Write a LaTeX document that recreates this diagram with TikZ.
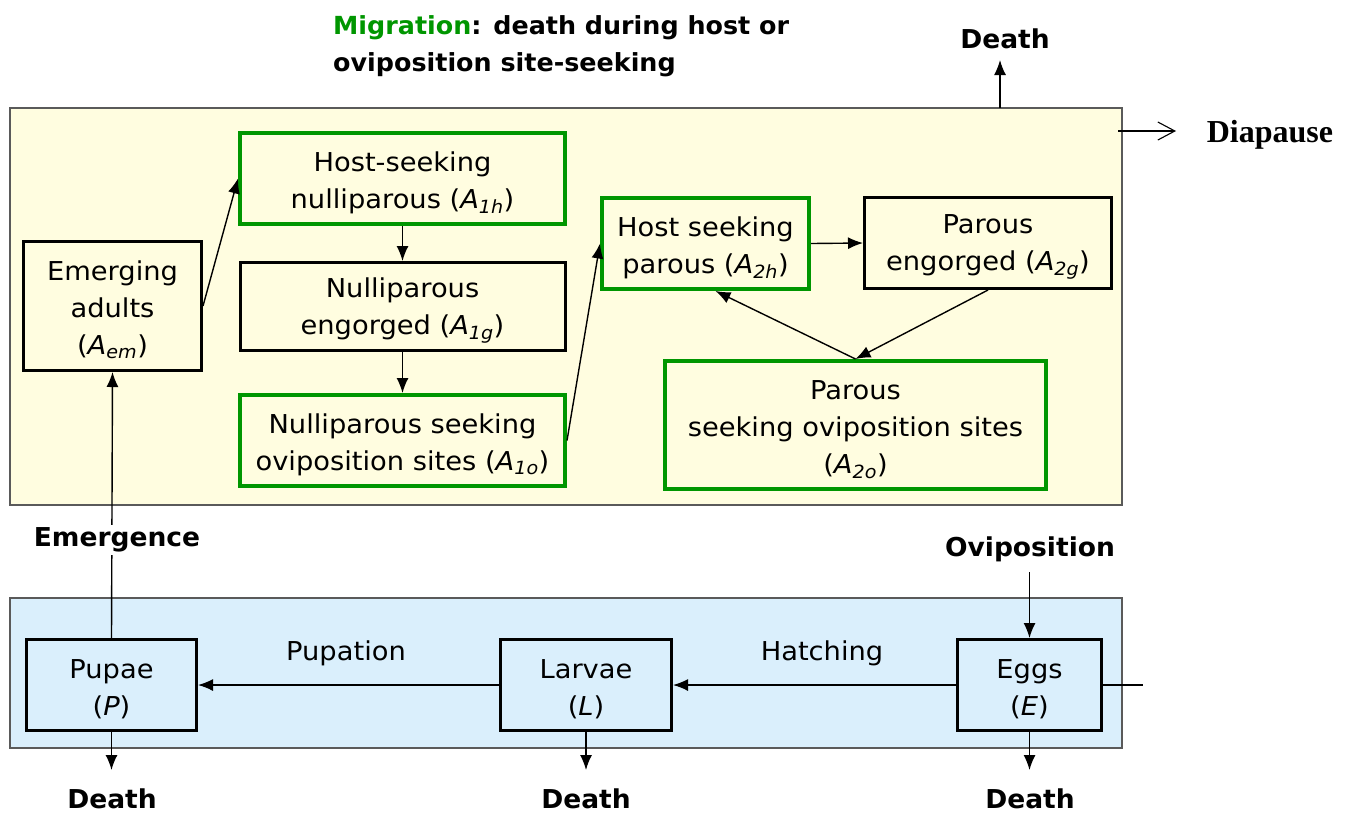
\documentclass[tikz,border=0pt]{standalone}
\usepackage{fontspec}
\setmainfont{DejaVu Sans}[FakeStretch=1.05]
\newfontfamily\boldlbl{DejaVu Sans}[FakeStretch=1.02]
\newfontfamily\timesfont{Liberation Serif}
\usetikzlibrary{arrows.meta}
\definecolor{ybg}{RGB}{255,253,224}
\definecolor{bbg}{RGB}{218,239,252}
\definecolor{grn}{RGB}{0,150,0}
\definecolor{frame}{RGB}{90,90,90}
\newcommand{\Asub}[1]{(\textit{A\textsubscript{#1}})}
\newcommand{\topstrut}{\rule{0pt}{27.5pt}}
\begin{document}
\begin{tikzpicture}[x=1pt,y=-1pt,
  txt/.style={font=\fontsize{26}{37}\selectfont, align=center, inner sep=0pt},
  bbox/.style={txt, draw=black, line width=3pt},
  gbox/.style={txt, draw=grn, line width=4pt},
  lbl/.style={font=\fontsize{26}{37}\selectfont\boldlbl\bfseries, inner sep=0pt},
  conn/.style={line width=1.4pt, -{Latex[length=15pt,width=12pt]}},
  plain/.style={line width=1.4pt},
  panel/.style={draw=frame, line width=1.3pt}
]
\useasboundingbox (0,0) rectangle (1351,815);
% panels
\path[panel, fill=ybg] (10,108) rectangle (1122,505);
\path[panel, fill=bbg] (10,598) rectangle (1122,748);

% title
\node[font=\fontsize{24.9}{37}\selectfont\boldlbl\bfseries, inner sep=0pt, anchor=west, align=left] (title) at (333,46.5)
  {\textcolor{grn}{Migration}: death during host or\\oviposition site-seeking};

% adult boxes
\node[bbox, minimum width=178pt, minimum height=129pt] (Aem) at (112.5,306)
  {\topstrut Emerging\\adults\\\Asub{em}};
\node[gbox, minimum width=325pt, minimum height=91pt] (A1h) at (402.5,178.5)
  {\topstrut Host-seeking\\nulliparous \Asub{1h}};
\node[bbox, minimum width=325pt, minimum height=88pt] (A1g) at (402.5,306.5)
  {\topstrut Nulliparous\\engorged \Asub{1g}};
\node[gbox, minimum width=325pt, minimum height=91pt] (A1o) at (402.5,440.5)
  {\topstrut Nulliparous seeking\\oviposition sites \Asub{1o}};
\node[gbox, minimum width=207pt, minimum height=91pt] (A2h) at (705.5,243.5)
  {\topstrut Host seeking\\parous \Asub{2h}};
\node[bbox, minimum width=247pt, minimum height=91pt] (A2g) at (988,243)
  {\topstrut Parous\\engorged \Asub{2g}};
\node[gbox, minimum width=381pt, minimum height=128pt] (A2o) at (855.5,425)
  {\topstrut Parous\\seeking oviposition sites\\\Asub{2o}};

% aquatic boxes
\node[bbox, minimum width=170pt, minimum height=91pt] (P) at (111.5,685)
  {\topstrut Pupae\\(\textit{P})};
\node[bbox, minimum width=171pt, minimum height=91pt] (L) at (586,685)
  {\topstrut Larvae\\(\textit{L})};
\node[bbox, minimum width=144pt, minimum height=91pt] (E) at (1029.5,685)
  {\topstrut Eggs\\(\textit{E})};

% labels
\node[txt] (pup) at (346,653) {Pupation};
\node[txt] (hat) at (822,653) {Hatching};
\node[lbl] (ovi) at (1030,549) {Oviposition};
\node[lbl] (dtop) at (1005,39) {Death};
\node[lbl] (dP) at (112,799) {Death};
\node[lbl] (dL) at (586,799) {Death};
\node[lbl] (dE) at (1030,799) {Death};
\node[font=\fontsize{32}{34}\selectfont\timesfont\bfseries, inner sep=0pt] (dia) at (1270,135) {Diapause};

% coordinates
\coordinate (ytop) at (1000,108);
\coordinate (ytopE) at (1000,60);
\coordinate (diaS) at (1118,131);
\coordinate (diaE) at (1176,131);
\coordinate (oviS) at (1029.5,572);
\coordinate (aP) at (111.5,770);
\coordinate (aL) at (586,770);
\coordinate (aE) at (1029.5,770);
\coordinate (eR) at (1143,685);

% connectors
\draw[conn] (Aem.east) -- (A1h.west);
\draw[conn] (A1h.south) -- (A1g.north);
\draw[conn] (A1g.south) -- (A1o.north);
\draw[conn] (A1o.east) -- (A2h.west);
\draw[conn] (A2h.east) -- (A2g.west);
\draw[conn] (A2g.south) -- (A2o.north);
\draw[conn] (A2o.north) -- ([xshift=10pt]A2h.south);
\draw[conn] (P.north) -- (Aem.south);
\node[lbl, fill=white, inner sep=3pt] (emg) at (117,540) {Emergence};
\draw[conn] (L.west) -- (P.east);
\draw[conn] (E.west) -- (L.east);
\draw[plain] (E.east) -- (eR);
\draw[conn] (oviS) -- (E.north);
\draw[conn] (P.south) -- (aP);
\draw[conn] (L.south) -- (aL);
\draw[conn] (E.south) -- (aE);
\draw[conn] (ytop) -- (ytopE);
\draw[line width=1.1pt, -{Straight Barb[length=17pt,width=18pt]}] (diaS) -- (diaE);
\end{tikzpicture}
\end{document}
